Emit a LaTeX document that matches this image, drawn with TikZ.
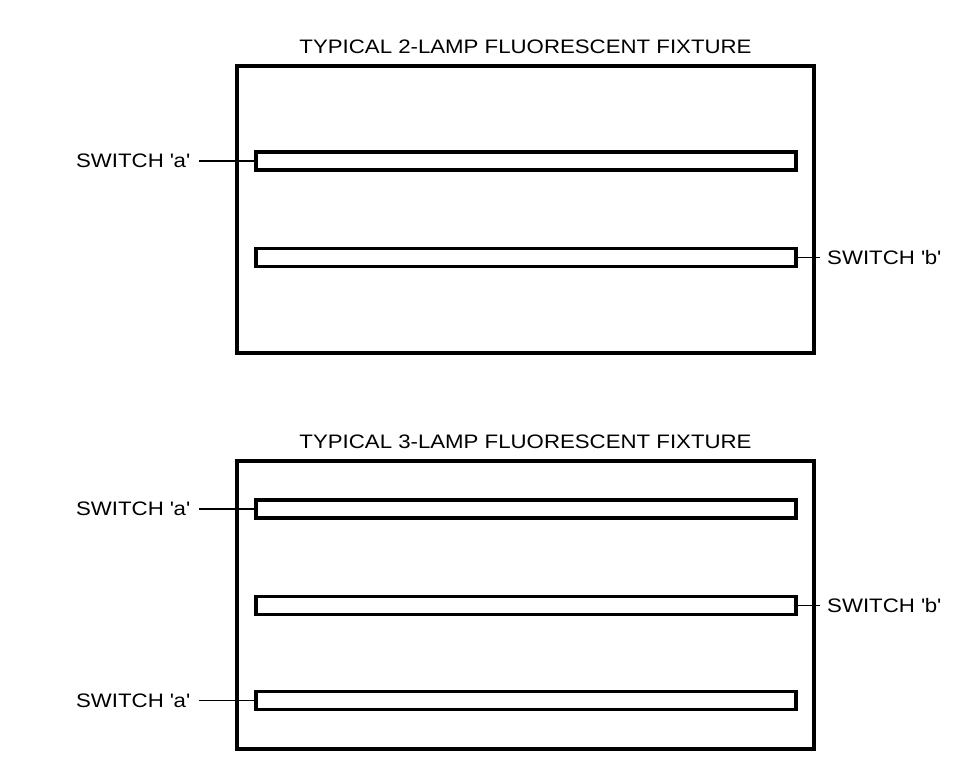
\documentclass[tikz,border=0pt]{standalone}
\usepackage{fontspec}
\setmainfont{Liberation Sans}[FakeStretch=1.14]
\begin{document}
\begin{tikzpicture}[x=1pt,y=-1pt,
  fixture/.style={draw,line width=3.2pt,minimum width=577pt,minimum height=287pt,inner sep=0pt},
  lamp/.style={draw,line width=3.2pt,minimum width=540pt,minimum height=18pt,inner sep=0pt},
  lbl/.style={inner sep=0pt,font=\fontsize{19.5}{22}\selectfont},
  leader/.style={line width=1.2pt}]
\useasboundingbox (0,0) rectangle (968,763);
% fixture 1
\node[fixture] (f1) at (525.5,209.5) {};
\node[lbl,anchor=base] (t1) at (525.5,53) {TYPICAL 2-LAMP FLUORESCENT FIXTURE};
\node[lamp] (l1a) at (526,161) {};
\node[lamp] (l1b) at (526,257.5) {};
\node[lbl,anchor=east] (s1a) at (190,161) {SWITCH \textquotesingle a\textquotesingle};
\node[lbl,anchor=west] (s1b) at (827,257.5) {SWITCH \textquotesingle b\textquotesingle};
\coordinate (c1a) at (199,161);
\coordinate (c1b) at (820,257.5);
\draw[leader] (c1a) -- (l1a.west);
\draw[leader] (l1b.east) -- (c1b);
% fixture 2
\node[fixture,minimum height=288pt] (f2) at (525.5,605) {};
\node[lbl,anchor=base] (t2) at (525.5,448) {TYPICAL 3-LAMP FLUORESCENT FIXTURE};
\node[lamp] (l2a) at (526,509) {};
\node[lamp] (l2b) at (526,605.5) {};
\node[lamp] (l2c) at (526,700.5) {};
\node[lbl,anchor=east] (s2a) at (190,509) {SWITCH \textquotesingle a\textquotesingle};
\node[lbl,anchor=west] (s2b) at (827,605.5) {SWITCH \textquotesingle b\textquotesingle};
\node[lbl,anchor=east] (s2c) at (190,700.5) {SWITCH \textquotesingle a\textquotesingle};
\coordinate (c2a) at (199,509);
\coordinate (c2b) at (820,605.5);
\coordinate (c2c) at (199,700.5);
\draw[leader] (c2a) -- (l2a.west);
\draw[leader] (l2b.east) -- (c2b);
\draw[leader] (c2c) -- (l2c.west);
\end{tikzpicture}
\end{document}
